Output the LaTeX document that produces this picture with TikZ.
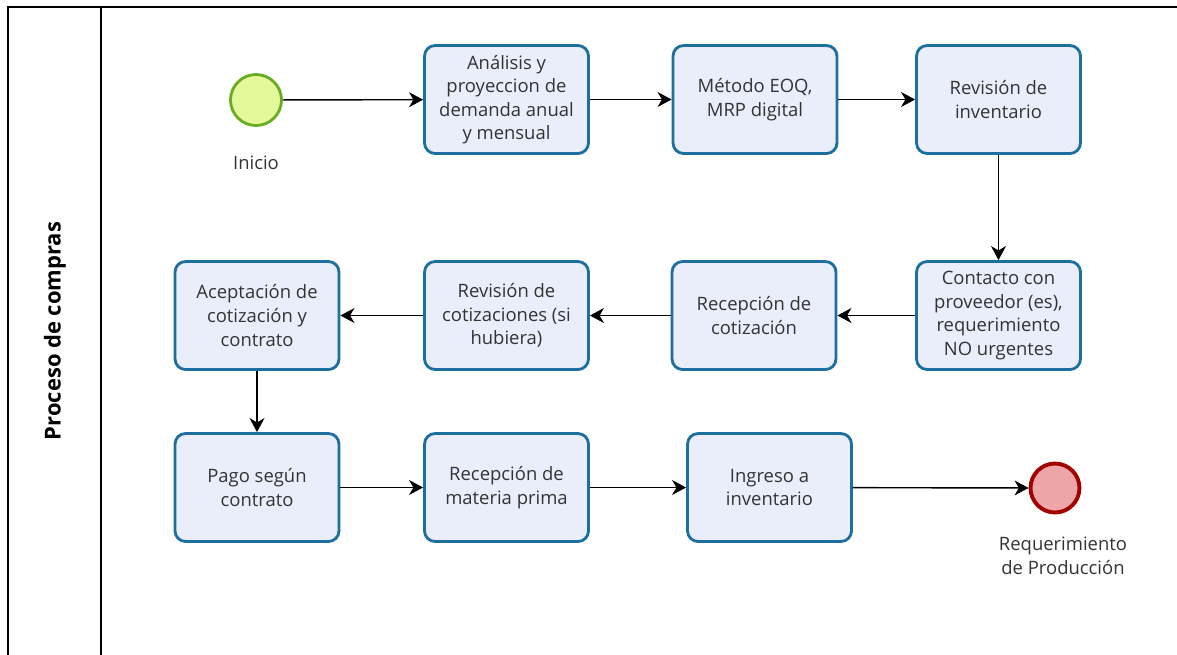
\documentclass[tikz,border=0pt]{standalone}
\usepackage{fontspec}
\setmainfont{Open Sans}
\usepackage{xcolor}
\usepackage{tikz}
\usetikzlibrary{arrows.meta}

\definecolor{taskfill}{HTML}{EAEEFB}
\definecolor{taskline}{HTML}{1D6FA0}
\definecolor{startfill}{HTML}{E4FA9A}
\definecolor{startline}{HTML}{67AC23}
\definecolor{endfill}{HTML}{EDA5A8}
\definecolor{endline}{HTML}{A30000}
\definecolor{txt}{HTML}{333333}

\tikzset{
  task/.style={draw=taskline, fill=taskfill, line width=1.6pt, rounded corners=6pt,
    minimum width=3.28cm, minimum height=2.16cm, align=center, text=txt,
    font=\fontsize{10.5}{13.4}\selectfont},
  startev/.style={circle, draw=startline, fill=startfill, line width=1.6pt, minimum size=1.02cm},
  endev/.style={circle, draw=endline, fill=endfill, line width=2.2pt, minimum size=0.98cm},
  evlabel/.style={align=center, text=txt, font=\fontsize{10.5}{13.4}\selectfont}
}

\begin{document}
\begin{tikzpicture}[x=0.02cm,y=-0.02cm,line width=0.8pt]
\useasboundingbox (0,0) rectangle (1177,654);
% pool
\draw[line width=1pt] (8,7) rectangle (1200,680);
\draw[line width=1pt] (101,7) -- (101,680);
\node[rotate=90, font=\bfseries\fontsize{12.5}{15}\selectfont] (P) at (55,331) {Proceso de compras};

  \node[startev]       (S) at (256,100)      {};
  \node[evlabel]       (SL) at (256,163)     {Inicio};
  \node[task]          (T1) at (506.5,99.5)  {Análisis y\\proyeccion de\\demanda anual\\y mensual};
  \node[task]          (T2) at (755,99.5)    {Método EOQ,\\MRP digital};
  \node[task]          (T3) at (998.5,99.5)  {Revisión de\\inventario};
  \node[task]          (T4) at (998.5,315.5) {Contacto con\\proveedor (es),\\requerimiento\\NO urgentes};
  \node[task]          (T5) at (754,315.5)   {Recepción de\\cotización};
  \node[task]          (T6) at (506.5,315.5) {Revisión de\\cotizaciones (si\\hubiera)};
  \node[task]          (T7) at (257,315.5)   {Aceptación de\\cotización y\\contrato};
  \node[task]          (T8) at (257,487.5)   {Pago según\\contrato};
  \node[task]          (T9) at (506.5,487.5) {Recepción de\\materia prima};
  \node[task]          (T10) at (769.5,487.5) {Ingreso a\\inventario};
  \node[endev]         (E) at (1055,488)     {};
  \node[evlabel]       (EL) at (1063,556)    {Requerimiento\\de Producción};

  \path[->,>={Stealth[length=8pt,width=8.5pt,inset=2.5pt]}] 
        (S) edge  (T1)
        (T1) edge (T2)
        (T2) edge (T3)
        (T3) edge (T4)
        (T4) edge (T5)
        (T5) edge (T6)
        (T6) edge (T7)
        (T7) edge (T8)
        (T8) edge (T9)
        (T9) edge (T10)
        (T10) edge (E);

\end{tikzpicture}
\end{document}
